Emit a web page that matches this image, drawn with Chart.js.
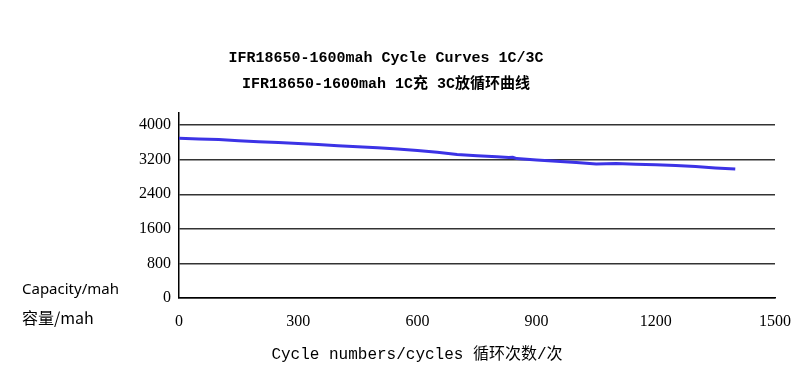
<!DOCTYPE html>
<html>
<head>
<meta charset="utf-8">
<script src="https://cdn.jsdelivr.net/npm/chart.js@4/dist/chart.umd.min.js"></script>
<style>
  html, body { margin: 0; padding: 0; background: #fff; }
  #wrap { width: 807px; height: 370px; }
</style>
</head>
<body>
<div id="wrap"><canvas id="chart1"></canvas></div>
<script>
// cycle numbers and capacity (mah)
var cycles = [0, 50, 100, 150, 200, 250, 300, 350, 400, 450, 500, 550, 600, 650, 700, 750, 800, 830, 840, 850, 900, 950, 1000, 1050, 1100, 1150, 1200, 1250, 1300, 1350, 1400];
var capacity = [3695, 3680, 3665, 3640, 3615, 3595, 3575, 3550, 3525, 3500, 3475, 3445, 3410, 3370, 3320, 3290, 3265, 3250, 3255, 3225, 3195, 3165, 3135, 3100, 3110, 3095, 3080, 3065, 3040, 3010, 2985];
var yTicks = [0, 800, 1600, 2400, 3200, 4000];
var xTicks = [0, 300, 600, 900, 1200, 1500];
var titleLines = ['IFR18650-1600mah Cycle Curves 1C/3C', 'IFR18650-1600mah 1C充 3C放循环曲线'];
var xTitle = 'Cycle numbers/cycles 循环次数/次';
var yTitles = ['Capacity/mah', '容量/mah'];

var points = cycles.map(function(c, i) { return { x: c, y: capacity[i] }; });

// free texts: titles and axis labels
var textPlugin = {
  id: 'texts',
  afterDraw: function(chart) {
    var ctx = chart.ctx;
    ctx.save();
    ctx.fillStyle = '#000';
    ctx.textBaseline = 'middle';
    ctx.textAlign = 'center';
    ctx.font = 'bold 15px "Liberation Mono", "Noto Sans CJK SC", monospace';
    ctx.fillText(titleLines[0], 386, 58);
    ctx.fillText(titleLines[1], 386, 84);
    ctx.font = '16px "Liberation Mono", "Noto Sans CJK SC", monospace';
    ctx.fillText(xTitle, 417, 355);
    ctx.textAlign = 'left';
    ctx.font = '15px "Noto Sans", sans-serif';
    ctx.fillText(yTitles[0], 22, 290);
    ctx.font = '16px "Noto Sans CJK SC", "Noto Sans", sans-serif';
    ctx.fillText(yTitles[1], 22, 318);
    ctx.restore();
  }
};

function plain(v) { return String(v); }

var ctx1 = document.getElementById('chart1').getContext('2d');
var chart1 = new Chart(ctx1, {
  type: 'scatter',
  data: {
    datasets: [{
      data: points,
      showLine: true,
      borderColor: '#3c33e6',
      borderWidth: 3,
      pointRadius: 0,
      tension: 0
    }]
  },
  options: {
    responsive: true,
    maintainAspectRatio: false,
    animation: false,
    layout: { padding: { left: 0, top: 113, right: 32, bottom: 42 } },
    plugins: { legend: { display: false }, tooltip: { enabled: false } },
    scales: {
      x: {
        type: 'linear',
        min: 0,
        max: 1500,
        afterBuildTicks: function(scale) {
          scale.ticks = xTicks.map(function(v) { return { value: v }; });
        },
        ticks: {
          autoSkip: false,
          maxRotation: 0,
          padding: 14,
          color: '#000',
          callback: plain,
          font: { family: '"Liberation Serif", serif', size: 16 }
        },
        grid: { display: false, drawTicks: false },
        border: { display: true, color: '#000', width: 1.5 },
        afterFit: function(scale) { scale.height = 30; }
      },
      y: {
        min: 0,
        max: 4280,
        afterBuildTicks: function(scale) {
          scale.ticks = yTicks.map(function(v) { return { value: v }; });
        },
        ticks: {
          autoSkip: false,
          padding: 8,
          color: '#000',
          callback: plain,
          font: { family: '"Liberation Serif", serif', size: 16 }
        },
        grid: { color: '#333', lineWidth: 1.5, drawTicks: false },
        border: { display: true, color: '#000', width: 1.5 },
        afterFit: function(scale) { scale.width = 179; }
      }
    }
  },
  plugins: [textPlugin]
});
</script>
</body>
</html>
